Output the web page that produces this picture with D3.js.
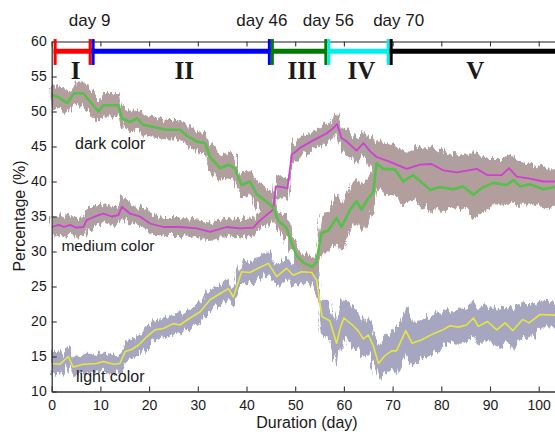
<!DOCTYPE html>
<meta charset="utf-8">
<script src="https://d3js.org/d3.v7.min.js"></script>
<style>
  body { margin: 0; background: #fff; }
  text { font-family: "Liberation Sans", Arial, sans-serif; fill: #1a1a1a; }
</style>
<div id="chart"></div>
<script>

// dark color: green trend line + scatter cloud
var darkDays = [0, 1.5, 3.2, 4.6, 6.5, 7.9, 9.6, 10.6, 13.7, 14.4,
    16.1, 17.5, 18.8, 20.9, 23.6, 26.3, 27.7, 29.8, 31.5, 32.5,
    34.6, 36.3, 37.6, 39.0, 40.7, 42.1, 44.1, 45.5, 46.5, 48.2,
    49.3, 50.3, 51.7, 53.5, 54.3, 54.8, 55.4, 56.8, 58.5, 59.5,
    61.3, 62.6, 63.6, 65.0, 66.0, 66.7, 68.1, 70.5, 72.2, 74.2,
    75.6, 77.7, 79.7, 82.5, 84.5, 86.6, 88.6, 90.7, 93.4, 94.8,
    96.2, 98.2, 100.9, 104];
var darkValues = [52.4, 52.0, 51.2, 52.6, 52.6, 51.4, 50.0, 50.9, 50.9, 49.0,
    48.5, 49.0, 48.1, 47.8, 47.4, 47.4, 46.6, 45.7, 45.5, 43.5,
    41.9, 42.4, 41.9, 39.5, 40.0, 38.2, 37.1, 36.3, 34.4, 33.4,
    31.2, 29.4, 28.4, 27.8, 28.4, 30.2, 32.6, 33.0, 34.8, 33.5,
    36.0, 37.2, 36.0, 37.6, 38.4, 42.6, 41.8, 41.7, 40.0, 40.9,
    40.1, 38.8, 39.2, 38.9, 39.3, 38.1, 39.2, 39.8, 39.5, 40.2,
    39.3, 39.6, 38.9, 39.3];
var darkSpread = [1.6, 1.6, 1.6, 1.7, 1.7, 1.6, 1.6, 1.6, 1.6, 1.6,
    1.6, 1.5, 1.5, 1.5, 1.4, 1.4, 1.4, 1.5, 1.6, 1.8,
    1.8, 1.8, 1.8, 1.8, 1.8, 1.8, 1.7, 1.7, 1.7, 1.6,
    1.6, 1.6, 1.4, 1.3, 1.4, 2.0, 2.6, 3.0, 3.5, 3.5,
    3.3, 3.3, 3.2, 3.2, 3.0, 3.4, 3.5, 3.6, 3.4, 3.4,
    3.3, 3.3, 3.2, 3.0, 3.0, 3.3, 3.4, 3.2, 3.0, 3.0,
    2.8, 2.7, 2.6, 2.6];

// medium color: magenta trend line + scatter cloud
var mediumDays = [0, 1.5, 2.5, 3.8, 5.0, 6.5, 7.2, 9.6, 10.6, 12.3,
    13.7, 14.4, 16.1, 18.1, 20.2, 22.9, 26.3, 29.8, 32.5, 35.9,
    38.7, 41.4, 42.4, 44.1, 45.5, 46.0, 47.5, 48.4, 49.3, 51.0,
    53.5, 56.5, 57.8, 58.6, 59.5, 60.6, 62.6, 64.0, 65.4, 66.7,
    69.5, 72.9, 75.6, 78.0, 80.4, 83.2, 85.5, 87.3, 89.5, 92.4,
    93.9, 95.5, 98.2, 100.9, 104];
var mediumValues = [33.5, 33.8, 33.5, 33.8, 33.4, 33.5, 34.5, 35.2, 35.4, 35.0,
    35.2, 36.4, 35.4, 35.0, 34.0, 33.5, 33.5, 33.3, 32.8, 33.5,
    33.3, 33.4, 34.2, 35.2, 36.0, 39.3, 39.2, 39.0, 43.8, 44.8,
    45.8, 46.9, 47.6, 48.2, 46.2, 45.7, 44.4, 45.5, 44.3, 43.5,
    42.8, 41.8, 42.4, 42.5, 41.6, 41.3, 41.6, 41.8, 40.9, 40.9,
    41.9, 40.7, 40.4, 40.0, 40.0];
var mediumSpread = [1.4, 1.4, 1.4, 1.4, 1.4, 1.4, 1.4, 1.4, 1.4, 1.4,
    1.4, 1.6, 1.4, 1.3, 1.3, 1.3, 1.3, 1.3, 1.3, 1.3,
    1.3, 1.3, 1.3, 1.4, 1.6, 1.8, 1.6, 1.5, 1.5, 1.5,
    1.4, 1.4, 1.5, 1.6, 1.8, 1.8, 1.8, 1.8, 2.0, 2.2,
    2.4, 2.6, 2.6, 2.5, 2.5, 2.4, 2.4, 2.4, 2.3, 2.3,
    2.3, 2.2, 2.1, 2.0, 2.0];

// light color: yellow trend line + scatter cloud
var lightDays = [0, 1.7, 3.4, 4.4, 6.5, 9.2, 10.6, 12.7, 14.0, 15.1,
    16.4, 17.8, 19.5, 21.2, 22.9, 25.0, 26.3, 28.4, 30.5, 32.5,
    34.6, 36.3, 37.3, 39.0, 40.7, 42.4, 44.5, 46.2, 48.2, 49.6,
    51.3, 53.4, 54.4, 55.5, 57.1, 58.5, 59.3, 60.0, 61.6, 62.9,
    64.0, 65.0, 66.0, 67.1, 68.4, 69.8, 70.8, 72.7, 74.0, 76.0,
    78.5, 80.0, 81.8, 83.5, 85.2, 86.6, 87.6, 89.5, 91.4, 93.1,
    94.7, 96.7, 98.0, 100.3, 104];
var lightValues = [14.0, 13.9, 15.0, 13.5, 13.9, 14.0, 14.3, 13.9, 14.0, 15.7,
    16.0, 16.6, 17.8, 18.8, 19.0, 19.7, 19.5, 20.5, 21.4, 23.1,
    24.0, 24.7, 23.5, 27.1, 27.0, 27.6, 28.3, 26.4, 27.6, 26.6,
    27.1, 27.0, 25.9, 20.7, 20.1, 16.9, 19.2, 20.5, 19.6, 18.7,
    17.5, 18.1, 16.6, 14.0, 15.1, 15.8, 15.8, 18.7, 16.9, 17.4,
    18.3, 18.7, 19.4, 19.2, 19.5, 20.5, 19.3, 20.0, 18.8, 19.8,
    18.7, 20.3, 19.8, 21.0, 20.9];
var lightSpread = [1.4, 1.4, 1.4, 1.4, 1.3, 1.3, 1.3, 1.3, 1.3, 1.4,
    1.4, 1.4, 1.4, 1.4, 1.4, 1.4, 1.4, 1.4, 1.5, 1.5,
    1.5, 1.5, 1.5, 1.6, 1.6, 1.6, 1.6, 1.6, 1.6, 1.6,
    1.6, 1.6, 1.8, 2.4, 2.8, 3.2, 3.0, 2.8, 2.8, 2.8,
    2.6, 2.6, 2.6, 2.4, 2.6, 2.8, 3.0, 3.2, 3.0, 2.8,
    2.6, 2.5, 2.4, 2.4, 2.4, 2.5, 2.5, 2.6, 2.6, 2.6,
    2.6, 2.5, 2.3, 2.0, 1.9];

// phases along the top
var phaseStarts = [0.4, 8.2, 45.0, 56.6, 69.4];
var phaseEnds = [8.2, 45.0, 56.6, 69.4, 106];
var phaseNames = ["I", "II", "III", "IV", "V"];
var phaseColors = ["#ff0000", "#0000ff", "#007a00", "#00f0f0", "#000000"];
var boundaryLabels = ["day 9", "day 46", "day 56", "day 70"];

var xTicks = d3.range(0, 101, 10);
var yTicks = d3.range(10, 61, 5);

var width = 555, height = 432;

var svg = d3.select("#chart").append("svg")
    .attr("width", width)
    .attr("height", height);

var x = d3.scaleLinear().domain([0, 104]).range([51.7, 51.7 + 4.87 * 104]);
var y = d3.scaleLinear().domain([10, 60]).range([391.5, 41.5]);

// ragged edges for the scatter clouds
var defs = svg.append("defs");
var f = defs.append("filter").attr("id", "ragged")
    .attr("filterUnits", "userSpaceOnUse")
    .attr("x", 0).attr("y", 0).attr("width", width).attr("height", height);
f.append("feTurbulence").attr("type", "fractalNoise")
    .attr("baseFrequency", "0.35 0.05").attr("numOctaves", 2).attr("seed", 3)
    .attr("result", "n1");
f.append("feDisplacementMap").attr("in", "SourceGraphic").attr("in2", "n1")
    .attr("scale", 13).attr("xChannelSelector", "R").attr("yChannelSelector", "G")
    .attr("result", "d");
f.append("feGaussianBlur").attr("in", "d").attr("stdDeviation", 0.5);

function rows(days, values, spread) {
    return days.map(function(d, i) { return {day: d, v: values[i], s: spread[i]}; });
}

var series = [
    {rows: rows(lightDays, lightValues, lightSpread), cloud: "#a6a6c0", line: "#e6e640", lw: 1.6},
    {rows: rows(mediumDays, mediumValues, mediumSpread), cloud: "#ae9fa0", line: "#d040d0", lw: 1.8},
    {rows: rows(darkDays, darkValues, darkSpread), cloud: "#b29e9c", line: "#55c04a", lw: 2.6}
];

var area = d3.area()
    .x(function(d) { return x(d.day); })
    .y0(function(d) { return y(d.v - d.s); })
    .y1(function(d) { return y(d.v + d.s); });

var line = d3.line()
    .x(function(d) { return x(d.day); })
    .y(function(d) { return y(d.v); });

var clouds = svg.append("g").attr("filter", "url(#ragged)");
series.forEach(function(s) {
    clouds.append("path")
        .datum(s.rows)
        .attr("d", area)
        .attr("fill", s.cloud);
});

series.forEach(function(s) {
    svg.append("path")
        .datum(s.rows)
        .attr("d", line)
        .attr("fill", "none")
        .attr("stroke", s.line)
        .attr("stroke-width", s.lw)
        .attr("stroke-linejoin", "round");
});

// axes (ticks inward)
var xAxis = svg.append("g")
    .attr("transform", "translate(0," + y(10) + ")")
    .call(d3.axisBottom(x).tickValues(xTicks).tickSizeInner(-5).tickSizeOuter(0).tickPadding(9));

var yAxis = svg.append("g")
    .attr("transform", "translate(" + x(0) + ",0)")
    .call(d3.axisLeft(y).tickValues(yTicks).tickSizeInner(-5).tickSizeOuter(0).tickPadding(5));

var topAxis = svg.append("g")
    .attr("transform", "translate(0," + y(60) + ")")
    .call(d3.axisTop(x).tickValues(xTicks).tickSizeInner(-5).tickSizeOuter(0).tickFormat(""));

[xAxis, yAxis, topAxis].forEach(function(a) {
    a.select(".domain").attr("stroke", "#333").attr("stroke-width", 1.3);
    a.selectAll(".tick line").attr("stroke", "#333").attr("stroke-width", 1.1);
    a.selectAll(".tick text").attr("font-size", 14).attr("fill", "#1a1a1a")
        .attr("font-family", "Liberation Sans, Arial, sans-serif");
});
topAxis.select(".domain").attr("stroke", "#666");

// phase bar along the top
var barY = y(58.6);
var phases = phaseStarts.map(function(s, i) {
    return {a: s, b: phaseEnds[i], name: phaseNames[i], color: phaseColors[i]};
});
var pg = svg.append("g");
phases.forEach(function(p) {
    pg.append("line")
        .attr("x1", x(p.a)).attr("x2", x(p.b))
        .attr("y1", barY).attr("y2", barY)
        .attr("stroke", p.color).attr("stroke-width", 5);
    [x(p.a) + 1.5, x(p.b) - 1.5].forEach(function(px) {
        pg.append("line")
            .attr("x1", px).attr("x2", px)
            .attr("y1", y(60.35)).attr("y2", y(56.65))
            .attr("stroke", p.color).attr("stroke-width", 3);
    });
    var cx = (x(p.a) + Math.min(x(p.b), width)) / 2;
    pg.append("text")
        .attr("x", cx + 3).attr("y", barY + 28)
        .attr("text-anchor", "middle")
        .style("font-family", "'Liberation Serif', 'Times New Roman', serif")
        .style("font-weight", "bold")
        .style("font-size", "25px")
        .text(p.name);
});

var labelShift = [-2, -9, 1, 9];
boundaryLabels.forEach(function(t, i) {
    svg.append("text")
        .attr("x", x(phaseEnds[i]) + labelShift[i])
        .attr("y", y(60) - 15.5)
        .attr("text-anchor", "middle")
        .style("font-size", "17px")
        .text(t);
});

// series annotations
svg.append("text").attr("x", x(4.8)).attr("y", y(44.6)).style("font-size", "16px").text("dark color");
svg.append("text").attr("x", x(2.0)).attr("y", y(30.1)).style("font-size", "15.5px").text("medium color");
svg.append("text").attr("x", x(5.0)).attr("y", y(11.4)).style("font-size", "16px").text("light color");

// axis titles
svg.append("text")
    .attr("x", 307).attr("y", 428)
    .attr("text-anchor", "middle")
    .style("font-size", "16px")
    .text("Duration (day)");

svg.append("text")
    .attr("transform", "translate(25," + 216 + ") rotate(-90)")
    .attr("text-anchor", "middle")
    .style("font-size", "16px")
    .text("Percentage (%)");

</script>
